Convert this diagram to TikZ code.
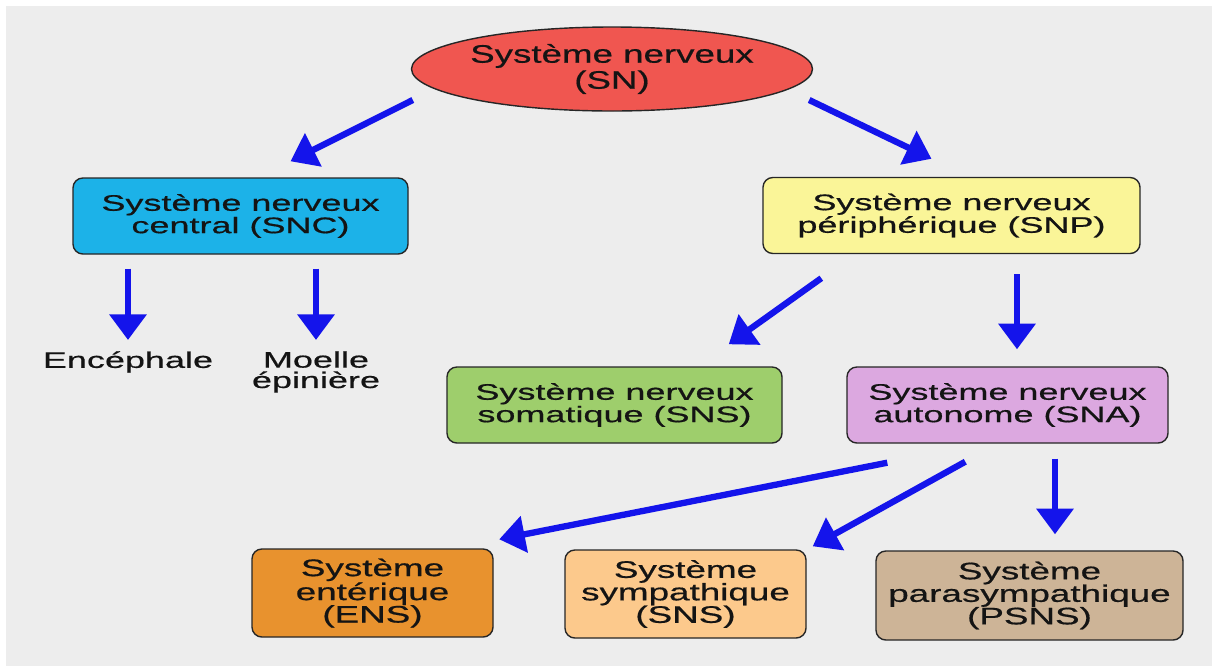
\documentclass[tikz,border=0pt]{standalone}
\usepackage{fontspec}
\setmainfont{Liberation Sans}
\newfontfamily\widefont[FakeStretch=1.6,FakeBold=0.6]{Liberation Sans}
\newfontfamily\ovalfont[FakeStretch=1.45,FakeBold=0.6]{Liberation Sans}
\newfontfamily\lowfont[FakeStretch=1.54,FakeBold=0.6]{Liberation Sans}
\usetikzlibrary{shapes.geometric,arrows.meta,calc}
\def\px{0.025cm}
\definecolor{bggray}{RGB}{237,237,237}
\definecolor{snred}{RGB}{240,86,80}
\definecolor{sncblue}{RGB}{28,178,232}
\definecolor{snpyellow}{RGB}{250,245,152}
\definecolor{snsgreen}{RGB}{158,206,108}
\definecolor{snalilac}{RGB}{220,168,224}
\definecolor{ensorange}{RGB}{232,146,46}
\definecolor{symorange}{RGB}{252,201,140}
\definecolor{psnstan}{RGB}{205,180,151}
\definecolor{arrblue}{RGB}{20,20,235}
\definecolor{txt}{RGB}{20,20,20}

\begin{document}
\begin{tikzpicture}[x=\px,y=-\px,
		oval/.style={ellipse,draw=black!85,line width=1pt,inner sep=0pt,text=txt,align=center,font=\ovalfont\fontsize{18}{18.5}\selectfont},
		box/.style={draw=black!85,line width=1pt,rounded corners=7pt,inner sep=0pt,text=txt,align=center},
		upbox/.style={box,minimum height=76*\px,font=\widefont\fontsize{16}{14.5}\selectfont},
		lowbox/.style={box,minimum height=88*\px,minimum width=241*\px,font=\lowfont\fontsize{17}{16}\selectfont},
		leaf/.style={inner sep=0pt,anchor=north,text=txt,align=center,font=\widefont\fontsize{16}{14.5}\selectfont},
		arr/.style={draw=arrblue,line width=4.5pt,-{Triangle[length=6.4mm,width=9mm]}}]
			\useasboundingbox (0,0) rectangle (1212,666);
			\fill[bggray] (6,6) rectangle (1212,666);

			\node(SN) at (612,69)[oval,fill=snred,minimum width=364*\px,minimum height=84*\px]{Système nerveux\\(SN)};

			\node(SNC) at (240.5,216)[upbox,fill=sncblue,minimum width=335*\px]{Système nerveux\\central (SNC)};
			\node(SNP) at (951.5,215.5)[upbox,fill=snpyellow,minimum width=377*\px]{Système nerveux\\périphérique (SNP)};

			\node(enc) at (128,351)[leaf]{Encéphale};
			\node(moe) at (316,351)[leaf]{Moelle\\épinière};

			\node(SNS) at (614.5,405)[upbox,fill=snsgreen,minimum width=335*\px]{Système nerveux\\somatique (SNS)};
			\node(SNA) at (1007.5,405)[upbox,fill=snalilac,minimum width=321*\px]{Système nerveux\\autonome (SNA)};

			\node(ENS) at (372.5,593)[lowbox,fill=ensorange]{Système\\entérique\\(ENS)};
			\node(SYM) at (685.5,594)[lowbox,fill=symorange]{Système\\sympathique\\(SNS)};
			\node(PSNS) at (1029.5,595.5)[lowbox,fill=psnstan,minimum width=307*\px,minimum height=89*\px]{Système\\parasympathique\\(PSNS)};

			\draw[arr] ($(SN.west)+(2,31)$) to ($(SNC.north)+(50,-16)$);
			\draw[arr] ($(SN.east)+(-4,31)$) to ($(SNP.north)+(-20,-18)$);
			\draw[arr,shorten <=0.35cm,shorten >=0.275cm] (SNC.south -| enc.north) to (enc.north);
			\draw[arr,shorten <=0.35cm,shorten >=0.275cm] (SNC.south -| moe.north) to (moe.north);
			\draw[arr] ($(SNP.south west)+(59,24)$) to ($(SNS.north east)+(-54,-22)$);
			\draw[arr] ($(SNP.south)+(65.5,20)$) to ($(SNA.north)+(9.5,-17)$);
			\draw[arr] ($(SNA.south west)+(41,19)$) to ($(ENS.north east)+(5.5,-9)$);
			\draw[arr] ($(SNA.south west)+(119,18)$) to ($(SYM.north east)+(6,-3)$);
			\draw[arr] ($(SNA.south)+(47.5,15)$) to ($(PSNS.north)+(25.5,-16)$);
		\end{tikzpicture}
\end{document}
